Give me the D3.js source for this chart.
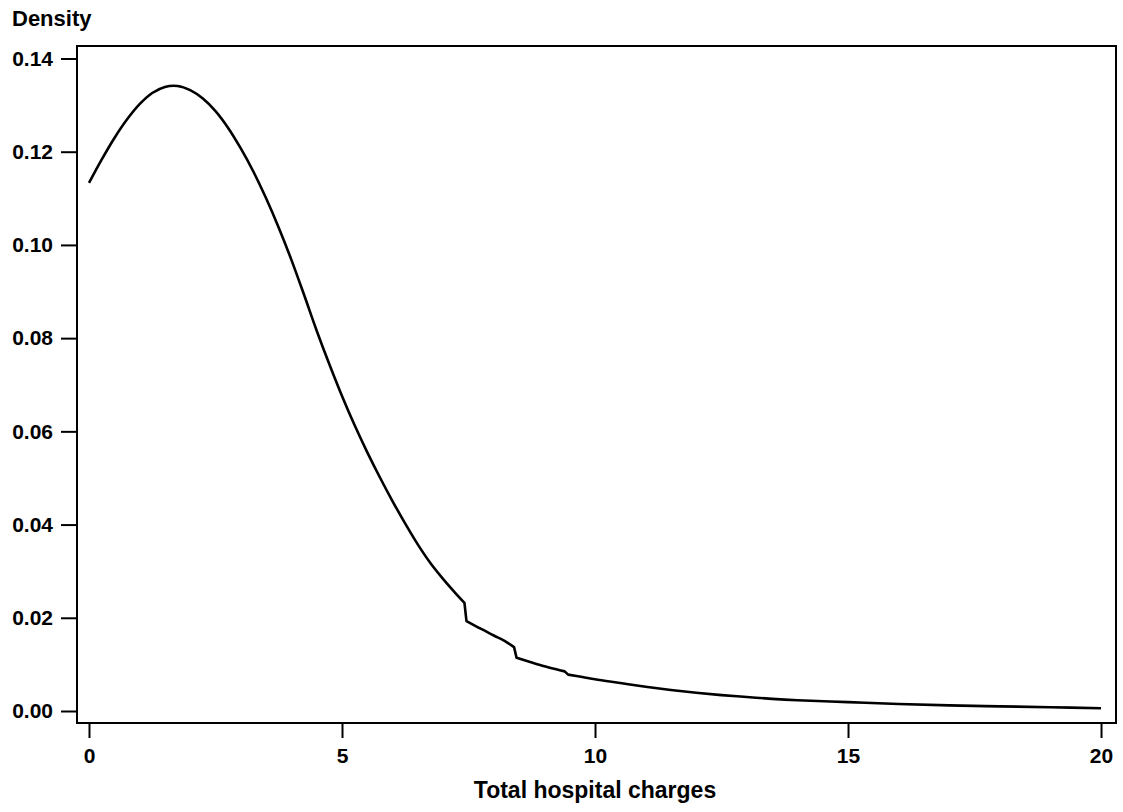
<!DOCTYPE html>
<html>
<head>
<meta charset="utf-8">
<script src="https://cdn.jsdelivr.net/npm/d3@7"></script>
<style>
  html, body { margin: 0; padding: 0; background: #fff; }
  svg { display: block; }
  text { font-family: "Liberation Sans", Arial, sans-serif; font-weight: bold; fill: #000; }
</style>
</head>
<body>
<script>
// Data (density estimate, with small steps)
const charges = [0, 0.25, 0.5, 0.75, 1.0, 1.25, 1.5, 1.75, 2.0, 2.25, 2.5, 2.75, 3.0, 3.25, 3.5, 3.75, 4.0, 4.25, 4.5, 4.75, 5.0, 5.25, 5.5, 5.75, 6.0, 6.25, 6.5, 6.75, 7.0, 7.25, 7.42,
                 7.46, 7.75, 8.0, 8.25, 8.40,
                 8.45, 8.75, 9.0, 9.25, 9.40,
                 9.47, 9.75, 10.0, 10.5, 11, 11.5, 12, 12.5, 13, 13.5, 14, 15, 16, 17, 18, 19, 20];
const density = [0.1133, 0.1183, 0.1229, 0.1269, 0.1302, 0.1326, 0.1339, 0.1341, 0.1332, 0.1314, 0.1287, 0.1251, 0.1207, 0.1157, 0.1100, 0.1037, 0.0968, 0.0893, 0.0816, 0.0744, 0.0676, 0.0613, 0.0555, 0.0501, 0.0450, 0.0402, 0.0357, 0.0317, 0.0283, 0.0252, 0.0232,
                 0.0193, 0.0176, 0.0162, 0.0148, 0.0137,
                 0.0114, 0.0104, 0.0096, 0.0089, 0.0085,
                 0.0078, 0.0073, 0.0068, 0.0060, 0.0052, 0.0045, 0.0039, 0.0034, 0.0030, 0.0026, 0.0023, 0.0019, 0.0015, 0.0012, 0.0010, 0.0008, 0.0006];
// indices where the curve has a sharp step (start of a new smooth piece)
const stepStarts = [31, 36, 41];
const xTicks = [0, 5, 10, 15, 20];
const yTicks = [0.00, 0.02, 0.04, 0.06, 0.08, 0.10, 0.12, 0.14];
const xTitle = "Total hospital charges";
const yTitle = "Density";

const W = 1123, H = 812;
const frame = { left: 77, right: 1116, top: 46, bottom: 723 };

const svg = d3.select("body").append("svg").attr("width", W).attr("height", H);

const x = d3.scaleLinear().domain([-0.237, 20.296]).range([frame.left, frame.right]);
const y = d3.scaleLinear().domain([-0.002575, 0.14268]).range([frame.bottom, frame.top]);

// Frame
svg.append("rect")
  .attr("x", frame.left).attr("y", frame.top)
  .attr("width", frame.right - frame.left).attr("height", frame.bottom - frame.top)
  .attr("fill", "none").attr("stroke", "#000").attr("stroke-width", 2);

// Y axis
const yAxis = d3.axisLeft(y).tickValues(yTicks).tickSize(16).tickPadding(8).tickFormat(d3.format(".2f"));
const gy = svg.append("g").attr("transform", `translate(${frame.left},0)`).call(yAxis);
gy.select(".domain").remove();
gy.selectAll(".tick line").attr("stroke", "#000").attr("stroke-width", 2);
gy.selectAll(".tick text").attr("font-size", 21).attr("font-family", "Liberation Sans, Arial, sans-serif").attr("font-weight", "bold");

// X axis
const xAxis = d3.axisBottom(x).tickValues(xTicks).tickSize(15).tickPadding(10).tickFormat(d3.format("d"));
const gx = svg.append("g").attr("transform", `translate(0,${frame.bottom})`).call(xAxis);
gx.select(".domain").remove();
gx.selectAll(".tick line").attr("stroke", "#000").attr("stroke-width", 2);
gx.selectAll(".tick text").attr("font-size", 21).attr("font-family", "Liberation Sans, Arial, sans-serif").attr("font-weight", "bold");

// Titles
svg.append("text").attr("x", 12).attr("y", 26).attr("font-size", 22).text(yTitle);
svg.append("text").attr("x", (x(0) + x(20)) / 2).attr("y", 798).attr("text-anchor", "middle").attr("font-size", 23).text(xTitle);

// Curve: smooth pieces joined by straight steps
const pts = charges.map((c, i) => [c, density[i]]);
const bounds = [0, ...stepStarts, pts.length];
const lineGen = d3.line().x(d => x(d[0])).y(d => y(d[1])).curve(d3.curveCatmullRom.alpha(0.5));
let dStr = "";
for (let k = 0; k < bounds.length - 1; k++) {
  const seg = pts.slice(bounds[k], bounds[k + 1]);
  const s = lineGen(seg);
  dStr += (k === 0) ? s : "L" + s.slice(1);
}
svg.append("path")
  .attr("d", dStr)
  .attr("fill", "none").attr("stroke", "#000").attr("stroke-width", 2.6).attr("stroke-linejoin", "round");
</script>
</body>
</html>
